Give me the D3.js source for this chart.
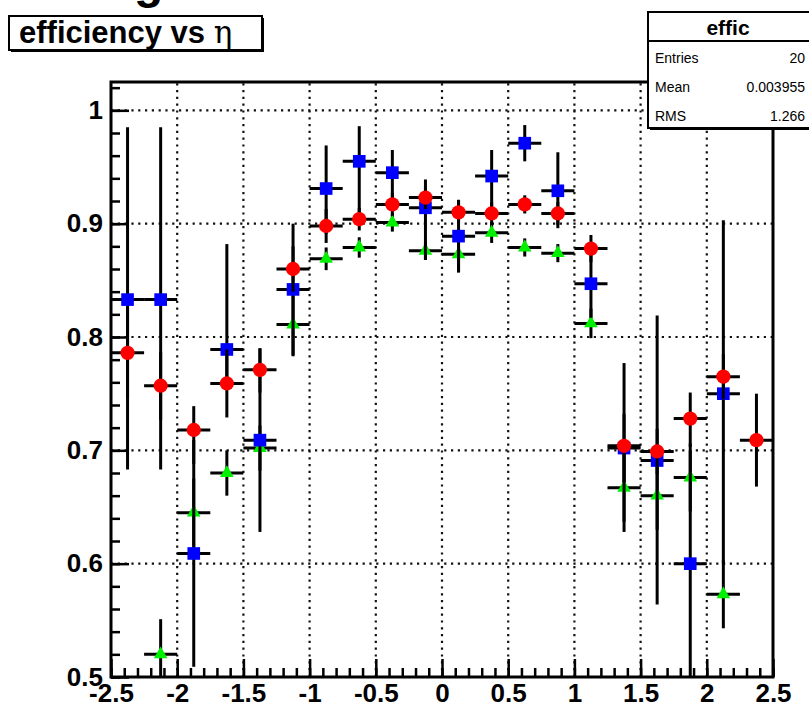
<!DOCTYPE html>
<html>
<head>
<meta charset="utf-8">
<script src="https://cdn.jsdelivr.net/npm/d3@7"></script>
<style>
  body { margin: 0; background: #fff; }
  svg text { font-family: "Liberation Sans", Arial, Helvetica, sans-serif; }
</style>
</head>
<body>
<div id="chart"></div>
<script>
  // bin centres in eta (20 bins of 0.25)
  var etaBins = [-2.375, -2.125, -1.875, -1.625, -1.375, -1.125, -0.875, -0.625, -0.375, -0.125,
                 0.125, 0.375, 0.625, 0.875, 1.125, 1.375, 1.625, 1.875, 2.125, 2.375];
  var binHalfWidth = 0.125;

  // blue squares
  var blueEff = [0.833, 0.833, 0.609, 0.789, 0.709, 0.842, 0.931, 0.955, 0.945, 0.914,
                 0.889, 0.942, 0.971, 0.929, 0.847, 0.702, 0.691, 0.600, 0.750, null];
  var blueErrLo = [0.150, 0.150, 0.100, 0.030, 0.081, 0.058, 0.040, 0.045, 0.022, 0.046,
                   0.032, 0.030, 0.016, 0.033, 0.030, 0.030, 0.127, 0.100, 0.150, null];
  var blueErrHi = [0.152, 0.152, 0.100, 0.093, 0.081, 0.058, 0.038, 0.031, 0.020, 0.025,
                   0.032, 0.023, 0.016, 0.034, 0.030, 0.030, 0.128, 0.100, 0.153, null];

  // red circles
  var redEff = [0.786, 0.757, 0.718, 0.759, 0.771, 0.860, 0.898, 0.904, 0.917, 0.923,
                0.910, 0.909, 0.917, 0.909, 0.878, 0.704, 0.699, 0.728, 0.765, 0.709];
  var redErrLo = [0.040, 0.030, 0.030, 0.030, 0.020, 0.020, 0.015, 0.010, 0.010, 0.010,
                  0.010, 0.010, 0.008, 0.010, 0.012, 0.076, 0.020, 0.025, 0.020, 0.041];
  var redErrHi = [0.040, 0.030, 0.021, 0.030, 0.019, 0.020, 0.015, 0.010, 0.010, 0.010,
                  0.011, 0.010, 0.008, 0.010, 0.012, 0.073, 0.020, 0.023, 0.020, 0.041];

  // green triangles
  var greenEff = [null, 0.520, 0.645, 0.680, 0.702, 0.811, 0.869, 0.879, 0.901, 0.876,
                  0.873, 0.892, 0.879, 0.874, 0.812, 0.667, 0.660, 0.676, 0.573, null];
  var greenErrLo = [null, 0.020, 0.030, 0.020, 0.020, 0.028, 0.010, 0.009, 0.008, 0.008,
                    0.016, 0.009, 0.008, 0.008, 0.013, 0.030, 0.030, 0.030, 0.030, null];
  var greenErrHi = [null, 0.031, 0.030, 0.020, 0.020, 0.028, 0.010, 0.009, 0.008, 0.008,
                    0.010, 0.009, 0.008, 0.008, 0.013, 0.030, 0.030, 0.030, 0.030, null];

  var xTicks = [-2.5, -2, -1.5, -1, -0.5, 0, 0.5, 1, 1.5, 2, 2.5];
  var xTickLabels = ["-2.5", "-2", "-1.5", "-1", "-0.5", "0", "0.5", "1", "1.5", "2", "2.5"];
  var yTicks = [0.5, 0.6, 0.7, 0.8, 0.9, 1.0];
  var yTickLabels = ["0.5", "0.6", "0.7", "0.8", "0.9", "1"];

  var statNames = ["Entries", "Mean", "RMS"];
  var statValues = ["20", "0.003955", "1.266"];

  var width = 809, height = 704;

  var svg = d3.select("#chart")
    .append("svg")
      .attr("width", width)
      .attr("height", height);

  var x = d3.scaleLinear().domain([-2.5, 2.5]).range([111, 773]);
  var y = d3.scaleLinear().domain([0.5, 1.025]).range([677, 82]);

  // dotted grid
  var grid = svg.append("g")
    .attr("stroke", "#111")
    .attr("stroke-width", 2.2)
    .attr("stroke-dasharray", "2.2,4.6");
  grid.selectAll(".vg")
    .data(xTicks.slice(1, -1))
    .enter().append("line")
      .attr("x1", d => x(d)).attr("x2", d => x(d))
      .attr("y1", y.range()[0]).attr("y2", y.range()[1]);
  grid.selectAll(".hg")
    .data(yTicks.slice(1))
    .enter().append("line")
      .attr("x1", x.range()[0]).attr("x2", x.range()[1])
      .attr("y1", d => y(d)).attr("y2", d => y(d));

  // axes, ticks drawn inside the frame
  var xMinor = d3.range(-25, 26).map(d => d / 10);
  var yMinor = d3.range(25, 52).map(d => d / 50);

  svg.append("g")
    .attr("transform", "translate(0," + y.range()[0] + ")")
    .call(d3.axisBottom(x).tickValues(xMinor).tickSize(-9).tickFormat(""))
    .call(g => g.select(".domain").remove());
  var xAxis = svg.append("g")
    .attr("transform", "translate(0," + y.range()[0] + ")")
    .call(d3.axisBottom(x).tickValues(xTicks).tickSize(-18).tickPadding(7)
      .tickFormat((d, i) => xTickLabels[i]));
  xAxis.select(".domain").remove();

  svg.append("g")
    .attr("transform", "translate(" + x.range()[0] + ",0)")
    .call(d3.axisLeft(y).tickValues(yMinor).tickSize(-9).tickFormat(""))
    .call(g => g.select(".domain").remove());
  var yAxis = svg.append("g")
    .attr("transform", "translate(" + x.range()[0] + ",0)")
    .call(d3.axisLeft(y).tickValues(yTicks).tickSize(-18).tickPadding(8)
      .tickFormat((d, i) => yTickLabels[i]));
  yAxis.select(".domain").remove();

  svg.selectAll(".tick line").attr("stroke", "#000").attr("stroke-width", 2.5);
  svg.selectAll(".tick text")
    .attr("fill", "#000")
    .style("font-size", "26px")
    .style("font-weight", "bold");

  // frame
  svg.append("rect")
    .attr("x", x.range()[0]).attr("y", y.range()[1])
    .attr("width", x.range()[1] - x.range()[0])
    .attr("height", y.range()[0] - y.range()[1])
    .attr("fill", "none")
    .attr("stroke", "#000")
    .attr("stroke-width", 3);

  function series(vals, lo, hi) {
    return etaBins.map(function (c, i) {
      return {eta: c, v: vals[i], lo: lo[i], hi: hi[i]};
    }).filter(d => d.v !== null);
  }

  function drawSeries(data, color, shape) {
    var g = svg.append("g");
    var pt = g.selectAll(".pt").data(data).enter().append("g");
    pt.append("line")
      .attr("x1", d => x(d.eta - binHalfWidth)).attr("x2", d => x(d.eta + binHalfWidth))
      .attr("y1", d => y(d.v)).attr("y2", d => y(d.v))
      .attr("stroke", "#000").attr("stroke-width", 3);
    pt.append("line")
      .attr("x1", d => x(d.eta)).attr("x2", d => x(d.eta))
      .attr("y1", d => y(Math.max(0.5, d.v - d.lo))).attr("y2", d => y(d.v + d.hi))
      .attr("stroke", "#000").attr("stroke-width", 3);
    pt.append("path")
      .attr("transform", d => "translate(" + x(d.eta) + "," + y(d.v) + ")")
      .attr("d", d3.symbol().type(shape).size(shape === d3.symbolTriangle ? 80 : 160))
      .attr("fill", color);
  }

  drawSeries(series(greenEff, greenErrLo, greenErrHi), "#00f000", d3.symbolTriangle);
  drawSeries(series(blueEff, blueErrLo, blueErrHi), "#0000ff", d3.symbolSquare);
  drawSeries(series(redEff, redErrLo, redErrHi), "#ff0000", d3.symbolCircle);

  // cut-off piece of a larger title above the pad
  svg.append("text")
    .attr("x", 134).attr("y", -2)
    .style("font-size", "48px").style("font-weight", "bold")
    .text("g");

  // title box
  svg.append("rect")
    .attr("x", 11).attr("y", 18).attr("width", 253).attr("height", 34)
    .attr("fill", "#000");
  svg.append("rect")
    .attr("x", 9).attr("y", 16).attr("width", 253).attr("height", 34)
    .attr("fill", "#fff").attr("stroke", "#000").attr("stroke-width", 2);
  var title = svg.append("text")
    .attr("x", 19).attr("y", 43)
    .style("font-size", "31px").style("font-weight", "bold");
  title.append("tspan").text("efficiency vs ");
  title.append("tspan")
    .style("font-family", "'DejaVu Serif', serif")
    .style("font-weight", "normal")
    .text("η");

  // stats box
  svg.append("rect")
    .attr("x", 650).attr("y", 14).attr("width", 170).attr("height", 116)
    .attr("fill", "#000");
  svg.append("rect")
    .attr("x", 648).attr("y", 12).attr("width", 170).attr("height", 116)
    .attr("fill", "#fff").attr("stroke", "#000").attr("stroke-width", 2);
  svg.append("line")
    .attr("x1", 648).attr("x2", 809).attr("y1", 41).attr("y2", 41)
    .attr("stroke", "#000").attr("stroke-width", 2);
  svg.append("text")
    .attr("x", 728).attr("y", 35)
    .attr("text-anchor", "middle")
    .style("font-size", "21px").style("font-weight", "bold")
    .text("effic");
  statNames.forEach(function (name, i) {
    svg.append("text")
      .attr("x", 655).attr("y", 63 + i * 29)
      .style("font-size", "14px")
      .text(name);
    svg.append("text")
      .attr("x", 805).attr("y", 63 + i * 29)
      .attr("text-anchor", "end")
      .style("font-size", "14px")
      .text(statValues[i]);
  });
</script>
</body>
</html>
